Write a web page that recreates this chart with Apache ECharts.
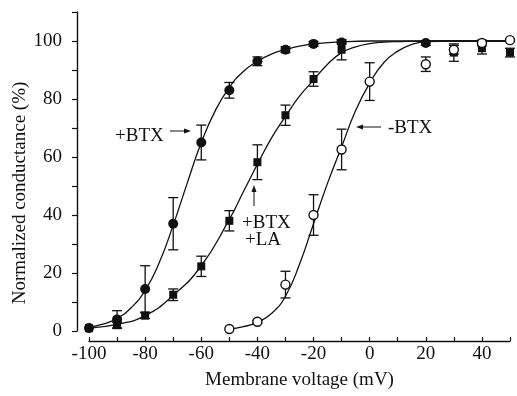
<!DOCTYPE html>
<html>
<head>
<meta charset="utf-8">
<script src="https://cdn.jsdelivr.net/npm/echarts@6/dist/echarts.min.js"></script>
<style>
  html, body { margin: 0; padding: 0; background: #fff; }
  #chart { width: 517px; height: 396px; }
</style>
</head>
<body>
<div id="chart"></div>
<script>
const btxV = [-100, -90, -80, -70, -60, -50, -40, -30, -20, -10, 20]
const btxY = [1, 4, 14.5, 37, 65, 83, 93, 97, 99, 99.5, 99.3]
const btxErr = [0, 3, 8, 9, 6, 2.7, 1.5, 1, 0.8, 0.5, 0.8]

const laV = [-100, -90, -80, -70, -60, -50, -40, -30, -20, -10, 30, 40, 50]
const laY = [1, 2, 5.3, 12.5, 22.3, 38, 58.2, 74.4, 86.9, 97, 96, 97.5, 96]
const laErr = [0, 1, 1, 2, 3.5, 3.5, 6, 3.5, 2.5, 3.5, 3, 2, 1.5]

const ctlV = [-50, -40, -30, -20, -10, 0, 20, 30, 40, 50]
const ctlY = [0.7, 3.2, 16, 40, 62.6, 86, 92, 97, 99.3, 100.3]
const ctlErr = [0, 0.5, 4.6, 7, 7, 6.5, 2.5, 1.5, 1, 0.5]

// fitted curves
const btxCurveV = [-100, -95, -90, -85, -80, -75, -70, -65, -60, -55, -50, -45, -40, -35, -30, -25, -20, -10, 0, 10, 20, 30, 40, 50]
const btxCurveY = [1.3, 2.4, 4.3, 8, 14, 23.5, 36.5, 51, 65, 76, 84, 89.5, 93, 95.5, 97, 98.2, 99, 99.7, 100, 100, 100, 100, 100, 100]

const laCurveV = [-100, -90, -80, -70, -60, -50, -45, -40, -35, -30, -25, -20, -15, -10, -5, 0, 5, 10, 20, 30, 40, 50]
const laCurveY = [1, 2.3, 5.3, 12.3, 22.5, 38.5, 48, 57.5, 66.5, 74, 81, 86.5, 92, 96, 98, 99.1, 99.6, 99.8, 100, 100, 100, 100]

const ctlCurveV = [-50, -45, -40, -35, -30, -25, -20, -15, -10, -5, 0, 5, 10, 15, 20, 30, 40, 50]
const ctlCurveY = [0.7, 1.5, 3, 6, 12, 23, 37, 51, 63.5, 76, 85.5, 92.5, 96.5, 98.8, 99.8, 100, 100, 100]

const INK = '#111'
const FONT = '"Liberation Serif", "DejaVu Serif", serif'

const zip = (xs, ys) => xs.map((x, i) => [x, ys[i]])
const zip3 = (xs, ys, es) => xs.map((x, i) => [x, ys[i], es[i]])

function errorBars(rows) {
  return {
    type: 'custom',
    z: 2,
    silent: true,
    data: rows,
    encode: { x: 0, y: 1 },
    renderItem(params, api) {
      const x = api.value(0), y = api.value(1), e = api.value(2)
      if (!e) return null
      const top = api.coord([x, y + e])
      const bot = api.coord([x, y - e])
      const w = 5
      const style = { stroke: INK, lineWidth: 1.3 }
      return {
        type: 'group',
        children: [
          { type: 'line', shape: { x1: top[0], y1: top[1], x2: bot[0], y2: bot[1] }, style },
          { type: 'line', shape: { x1: top[0] - w, y1: top[1], x2: top[0] + w, y2: top[1] }, style },
          { type: 'line', shape: { x1: bot[0] - w, y1: bot[1], x2: bot[0] + w, y2: bot[1] }, style },
        ],
      }
    },
  }
}

function curve(xs, ys) {
  return {
    type: 'line', z: 3, data: zip(xs, ys), showSymbol: false, silent: true,
    smooth: 0.5,
    lineStyle: { color: INK, width: 1.3 },
  }
}

const chart = echarts.init(document.getElementById('chart'))
chart.setOption({
  animation: false,
  backgroundColor: '#fff',
  grid: { left: 89, right: 7, top: 12, bottom: 65 },
  xAxis: {
    type: 'value', min: -100, max: 50, interval: 10, offset: 10,
    axisLine: { onZero: false, lineStyle: { color: INK, width: 1.4 } },
    axisTick: { inside: true, length: 4, lineStyle: { color: INK, width: 1.2 } },
    axisLabel: {
      color: INK, fontFamily: FONT, fontSize: 19, margin: 4,
      formatter: v => (v % 20 === 0 && v <= 40 ? String(v) : ''),
    },
    splitLine: { show: false },
    name: 'Membrane voltage (mV)', nameLocation: 'middle', nameGap: 30,
    nameTextStyle: { color: INK, fontFamily: FONT, fontSize: 19 },
  },
  yAxis: {
    type: 'value', min: 0, max: 110, interval: 10, offset: 12,
    axisLine: { show: true, onZero: false, lineStyle: { color: INK, width: 1.4 } },
    axisTick: { show: true, length: 5, lineStyle: { color: INK, width: 1.2 } },
    axisLabel: {
      color: INK, fontFamily: FONT, fontSize: 19, margin: 15,
      formatter: v => (v % 20 === 0 && v <= 100 ? String(v) : ''),
    },
    splitLine: { show: false },
  },
  graphic: [
    { type: 'text', x: 20, y: 193, rotation: Math.PI / 2,
      style: { text: 'Normalized conductance (%)', font: '19px ' + FONT, fill: INK, align: 'center', verticalAlign: 'middle' } },
    { type: 'text', x: 115, y: 136, style: { text: '+BTX', font: '19px ' + FONT, fill: INK, verticalAlign: 'middle' } },
    { type: 'line', shape: { x1: 170, y1: 131, x2: 186, y2: 131 }, style: { stroke: INK, lineWidth: 1 } },
    { type: 'polygon', shape: { points: [[191, 131], [184, 128.5], [184, 133.5]] }, style: { fill: INK } },
    { type: 'text', x: 388, y: 128, style: { text: '-BTX', font: '19px ' + FONT, fill: INK, verticalAlign: 'middle' } },
    { type: 'line', shape: { x1: 362, y1: 127, x2: 381, y2: 127 }, style: { stroke: INK, lineWidth: 1 } },
    { type: 'polygon', shape: { points: [[356, 127], [363, 124.5], [363, 129.5]] }, style: { fill: INK } },
    { type: 'text', x: 242, y: 223, style: { text: '+BTX', font: '19px ' + FONT, fill: INK, verticalAlign: 'middle' } },
    { type: 'text', x: 245, y: 240, style: { text: '+LA', font: '19px ' + FONT, fill: INK, verticalAlign: 'middle' } },
    { type: 'line', shape: { x1: 254, y1: 206, x2: 254, y2: 191 }, style: { stroke: INK, lineWidth: 1 } },
    { type: 'polygon', shape: { points: [[254, 185], [251.5, 192], [256.5, 192]] }, style: { fill: INK } },
  ],
  series: [
    errorBars(zip3(btxV, btxY, btxErr)),
    errorBars(zip3(laV, laY, laErr)),
    errorBars(zip3(ctlV, ctlY, ctlErr)),
    curve(btxCurveV, btxCurveY),
    curve(laCurveV, laCurveY),
    curve(ctlCurveV, ctlCurveY),
    {
      type: 'scatter', z: 4, data: zip(laV, laY), symbol: 'rect', symbolSize: 8,
      itemStyle: { color: INK, opacity: 1 },
    },
    {
      type: 'scatter', z: 4, data: zip(btxV, btxY), symbol: 'circle', symbolSize: 10,
      itemStyle: { color: INK, opacity: 1 },
    },
    {
      type: 'scatter', z: 5, data: zip(ctlV, ctlY), symbol: 'circle', symbolSize: 9,
      itemStyle: { color: '#fff', borderColor: INK, borderWidth: 1.4, opacity: 1 },
    },
  ],
})
</script>
</body>
</html>
